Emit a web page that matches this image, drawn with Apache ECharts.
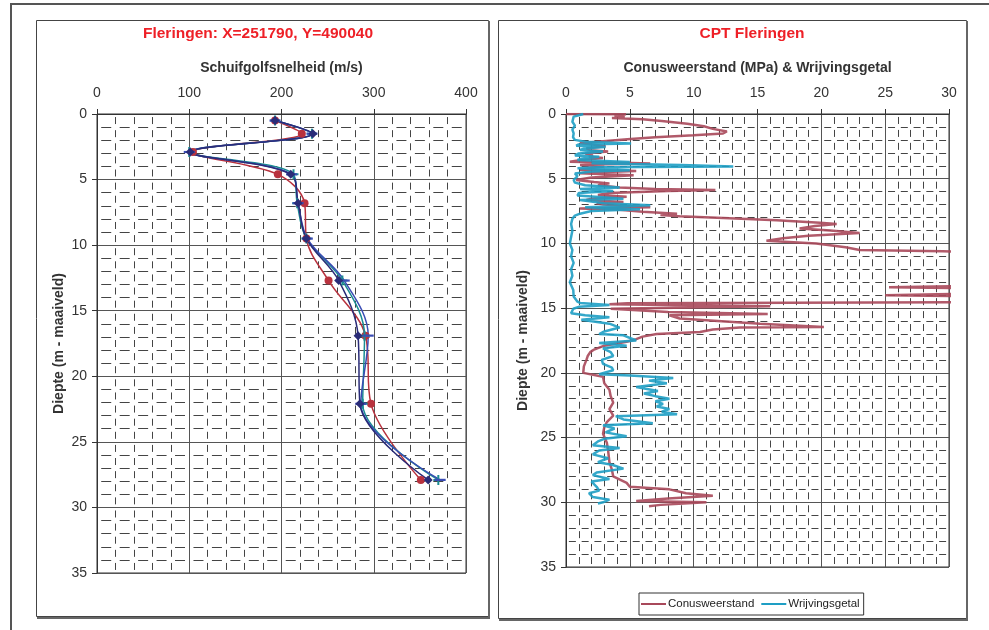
<!DOCTYPE html>
<html><head><meta charset="utf-8">
<script src="https://cdn.jsdelivr.net/npm/echarts@6/dist/echarts.min.js"></script>
<style>html,body{margin:0;padding:0;background:#fff}#c{width:989px;height:630px}</style>
</head><body><div id="c"></div>
<script>
// ---- Left chart: shear wave velocity profiles ----
const vsDepth = [0.5, 1.5, 2.9, 4.6, 6.8, 9.5, 12.7, 16.9, 22.1, 27.9];
const vsRed   = [193, 222, 104, 196, 225, 227, 251, 291, 297, 351];
const vsTeal  = [193, 233, 100, 213, 217, 227, 266, 290, 288, 370];
const vsBlue  = [193, 233, 100, 211, 218, 228, 268, 294, 286, 372];
const vsNavy  = [193, 234, 101, 210, 218, 227, 262, 283, 285, 359];

// ---- Right chart: CPT ----
const qcDepth = [0.00,0.02,0.08,0.13,0.21,0.30,0.40,0.55,0.75,0.95,1.15,1.35,1.50,1.65,1.80,1.95,2.10,2.25,2.40,2.50,2.65,2.80,2.90,3.05,3.15,3.30,3.40,3.55,3.68,3.75,3.82,3.90,3.94,4.05,4.15,4.30,4.40,4.50,4.58,4.74,4.90,5.10,5.25,5.36,5.50,5.67,5.80,5.88,5.95,6.10,6.25,6.40,6.55,6.65,6.80,6.90,7.00,7.20,7.30,7.40,7.55,7.70,7.80,7.90,8.05,8.20,8.40,8.50,8.65,8.84,9.00,9.20,9.40,9.60,9.80,10.00,10.30,10.50,10.60,10.70,11.50,12.50,13.30,13.38,13.46,13.90,14.00,14.08,14.55,14.62,14.70,14.85,15.05,15.30,15.45,15.55,15.80,16.20,16.45,16.50,16.65,16.85,17.00,17.20,17.40,17.60,17.90,18.20,18.40,18.70,19.00,19.50,20.00,20.30,20.80,21.30,21.80,22.30,22.80,23.30,23.80,24.20,24.70,25.40,26.00,26.90,27.50,28.00,28.50,28.80,29.00,29.30,29.50,29.70,29.90,30.00,30.20,30.30];
const qcValue = [0.0,4.7,4.0,3.8,4.6,3.6,6.0,7.5,9.5,10.8,11.5,12.6,12.3,10.0,7.0,4.8,2.9,1.1,2.4,3.1,1.6,1.9,3.3,1.5,2.1,1.8,2.9,1.2,0.3,3.5,6.6,2.0,1.1,3.0,2.2,1.1,5.5,2.5,1.1,5.3,2.0,0.8,2.2,3.4,2.5,4.2,7.0,11.7,8.0,3.4,2.5,4.75,2.0,1.6,4.5,2.4,2.9,6.6,1.1,4.2,6.0,8.7,7.4,8.9,12.8,16.5,19.9,21.2,19.5,18.3,20.7,23.0,19.0,17.0,15.7,19.6,21.9,23.0,29.5,31.5,33.0,32.0,31.0,25.3,31.0,31.0,25.0,31.0,31.0,4.8,3.4,16.0,3.5,8.0,15.8,8.1,8.9,15.2,20.2,13.6,11.5,10.5,7.1,6.0,5.5,4.75,3.0,2.2,1.9,1.7,1.6,1.4,1.35,2.9,3.0,3.4,3.5,3.7,3.4,3.7,3.2,3.0,2.9,3.2,3.3,3.4,3.6,3.7,4.75,5.0,8.1,9.4,11.5,8.0,5.5,11.0,7.4,6.5];
const rfDepth = [0.0,0.1,0.2,0.34,0.6,0.9,1.2,1.5,1.8,2.0,2.15,2.27,2.35,2.45,2.55,2.65,2.78,2.9,3.05,3.2,3.3,3.45,3.55,3.7,3.8,3.95,4.05,4.12,4.2,4.35,4.45,4.6,4.8,5.1,5.3,5.5,5.67,5.8,5.95,6.1,6.3,6.55,6.65,6.9,7.05,7.2,7.35,7.5,7.7,7.85,8.1,8.5,9.0,9.5,10.0,10.5,11.0,11.5,12.0,12.5,13.0,13.6,14.1,14.5,14.6,14.75,14.9,15.05,15.4,15.55,15.7,15.9,16.2,16.5,16.8,17.0,17.1,17.5,17.7,17.9,18.1,18.4,18.7,19.0,19.3,19.6,19.8,20.1,20.2,20.4,20.6,20.8,21.1,21.4,21.6,21.8,22.0,22.2,22.4,22.6,22.8,23.0,23.2,23.35,23.6,23.9,24.05,24.3,24.6,24.9,25.1,25.3,25.6,25.8,26.0,26.3,26.6,26.9,27.1,27.4,27.7,27.9,28.2,28.4,28.5,28.8,29.1,29.3,29.6,29.8,30.0,30.1];
const rfValue = [1.35,1.0,0.6,0.57,0.5,0.7,0.5,0.6,0.55,0.7,1.5,5.1,1.0,0.8,3.1,1.5,1.1,2.9,1.0,0.7,2.6,1.2,0.9,5.0,2.0,9.0,13.1,2.5,0.9,5.0,2.0,0.7,0.9,0.6,0.7,1.5,4.2,1.1,3.7,1.0,0.9,4.5,1.1,3.0,6.6,1.5,5.8,2.0,1.1,0.7,0.5,0.4,0.5,0.4,0.3,0.5,0.4,0.6,0.4,0.5,0.3,0.57,0.6,0.9,1.1,3.4,1.0,0.57,0.4,1.5,3.4,1.2,3.4,4.2,3.0,2.6,4.5,5.5,2.6,4.75,2.9,3.5,3.7,2.8,2.9,3.6,3.7,2.6,5.0,8.4,6.5,7.9,5.5,7.2,6.1,7.0,8.1,7.0,7.6,7.1,8.1,7.5,8.7,3.9,4.5,6.8,2.9,3.8,3.1,4.75,3.0,2.5,2.1,4.2,2.6,2.1,3.3,2.5,3.6,4.5,2.4,2.1,3.4,2.0,1.9,2.4,2.6,1.8,2.1,3.4,2.9,2.5];

const pairs = (xs, ys) => xs.map((x, i) => [x, ys[i]]);

const FONT = 'Liberation Sans, Arial, sans-serif';
const axisTxt = { color: '#333', fontSize: 14, fontFamily: FONT };
const nameTxt = { color: '#333', fontSize: 14, fontWeight: 'bold', fontFamily: FONT };

function minorLine(period, dash) {
  const gap = period - dash;
  return { show: true, lineStyle: { color: '#444', width: 1, type: [dash, gap], dashOffset: dash + gap / 2 } };
}

const chart = echarts.init(document.getElementById('c'), null, { renderer: 'canvas' });

const plus = 'path://M4,0L6,0L6,4L10,4L10,6L6,6L6,10L4,10L4,6L0,6L0,4L4,4Z';
const dash = 'path://M0,4L10,4L10,6L0,6Z';

function vsSeries(name, vals, color, symbol, size) {
  return {
    name, type: 'line', xAxisIndex: 0, yAxisIndex: 0,
    data: pairs(vals, vsDepth), smooth: 0.35,
    symbol, symbolSize: size, symbolKeepAspect: true, showSymbol: true,
    itemStyle: { color }, lineStyle: { color, width: 1.5 }, z: 3
  };
}

chart.setOption({
  animation: false,
  backgroundColor: '#fff',
  grid: [
    { left: 97, top: 114, width: 369, height: 459, show: true, borderColor: '#333', borderWidth: 1 },
    { left: 566, top: 114, width: 383, height: 453, show: true, borderColor: '#333', borderWidth: 1 }
  ],
  xAxis: [
    { type: 'value', gridIndex: 0, position: 'top', min: 0, max: 400, interval: 100,
      name: 'Schuifgolfsnelheid (m/s)', nameLocation: 'middle', nameGap: 39, nameTextStyle: nameTxt,
      axisLine: { show: true, lineStyle: { color: '#333' } },
      axisTick: { show: true, length: 5, lineStyle: { color: '#333' } },
      axisLabel: Object.assign({ margin: 14 }, axisTxt),
      splitLine: { show: true, lineStyle: { color: '#555', width: 1 } },
      minorTick: { show: false, splitNumber: 5 },
      minorSplitLine: minorLine(459 / 35, 7) },
    { type: 'value', gridIndex: 1, position: 'top', min: 0, max: 30, interval: 5,
      name: 'Conusweerstand (MPa) & Wrijvingsgetal', nameLocation: 'middle', nameGap: 39, nameTextStyle: nameTxt,
      axisLine: { show: true, lineStyle: { color: '#333' } },
      axisTick: { show: true, length: 5, lineStyle: { color: '#333' } },
      axisLabel: Object.assign({ margin: 14 }, axisTxt),
      splitLine: { show: true, lineStyle: { color: '#555', width: 1 } },
      minorTick: { show: false, splitNumber: 5 },
      minorSplitLine: minorLine(453 / 35, 7) }
  ],
  yAxis: [
    { type: 'value', gridIndex: 0, inverse: true, min: 0, max: 35, interval: 5,
      name: 'Diepte (m - maaiveld)', nameLocation: 'middle', nameGap: 31, nameRotate: 90, nameTextStyle: nameTxt,
      axisLine: { show: true, lineStyle: { color: '#333' } },
      axisTick: { show: true, length: 5, lineStyle: { color: '#333' } },
      axisLabel: Object.assign({ margin: 10 }, axisTxt),
      splitLine: { show: true, lineStyle: { color: '#555', width: 1 } },
      minorTick: { show: false, splitNumber: 5 },
      minorSplitLine: minorLine(369 / 20, 10) },
    { type: 'value', gridIndex: 1, inverse: true, min: 0, max: 35, interval: 5,
      name: 'Diepte (m - maaiveld)', nameLocation: 'middle', nameGap: 36, nameRotate: 90, nameTextStyle: nameTxt,
      axisLine: { show: true, lineStyle: { color: '#333' } },
      axisTick: { show: true, length: 5, lineStyle: { color: '#333' } },
      axisLabel: Object.assign({ margin: 10 }, axisTxt),
      splitLine: { show: true, lineStyle: { color: '#555', width: 1 } },
      minorTick: { show: false, splitNumber: 5 },
      minorSplitLine: minorLine(383 / 30, 7) }
  ],
  legend: {
    data: [{ name: 'Conusweerstand', icon: 'rect' }, { name: 'Wrijvingsgetal', icon: 'rect' }],
    left: 639, top: 593, orient: 'horizontal',
    itemWidth: 25, itemHeight: 2, itemGap: 7,
    padding: [5, 4, 5, 2],
    borderColor: '#333', borderWidth: 1, borderRadius: 0,
    textStyle: { color: '#222', fontSize: 11.5, fontFamily: FONT, padding: [0, 0, 0, -3] }
  },
  graphic: [
    { type: 'rect', shape: { x: 11, y: 4, width: 1000, height: 700 }, style: { fill: 'none', stroke: '#555', lineWidth: 2 }, z: -10, silent: true },
    { type: 'rect', shape: { x: 36.5, y: 20.5, width: 452, height: 596 }, style: { fill: 'none', stroke: '#444', lineWidth: 1 }, silent: true },
    { type: 'polyline', shape: { points: [[489, 21], [489, 618], [37, 618]] }, style: { stroke: '#666', lineWidth: 2, fill: 'none' }, silent: true },
    { type: 'rect', shape: { x: 498.5, y: 20.5, width: 468, height: 598 }, style: { fill: 'none', stroke: '#444', lineWidth: 1 }, silent: true },
    { type: 'polyline', shape: { points: [[967, 21], [967, 620], [499, 620]] }, style: { stroke: '#666', lineWidth: 2, fill: 'none' }, silent: true },
    { type: 'text', x: 258, y: 34, style: { text: 'Fleringen: X=251790, Y=490040', textAlign: 'center', textVerticalAlign: 'middle', font: 'bold 15.5px Liberation Sans, Arial, sans-serif', fill: '#EE2027' }, silent: true },
    { type: 'text', x: 752, y: 34, style: { text: 'CPT Fleringen', textAlign: 'center', textVerticalAlign: 'middle', font: 'bold 15.5px Liberation Sans, Arial, sans-serif', fill: '#EE2027' }, silent: true }
  ],
  series: [
    vsSeries('Vs 1', vsRed, '#B8323E', 'circle', 8),
    vsSeries('Vs 2', vsTeal, '#1A8C92', plus, 10),
    vsSeries('Vs 3', vsBlue, '#3A4CB4', dash, 11),
    vsSeries('Vs 4', vsNavy, '#2A2C78', 'diamond', 9),
    { name: 'Conusweerstand', type: 'line', xAxisIndex: 1, yAxisIndex: 1,
      data: pairs(qcValue, qcDepth), symbol: 'none', showSymbol: false, clip: true,
      itemStyle: { color: '#A8485A' }, lineStyle: { color: '#A8485A', width: 2.5, opacity: 0.9 }, z: 3 },
    { name: 'Wrijvingsgetal', type: 'line', xAxisIndex: 1, yAxisIndex: 1,
      data: pairs(rfValue, rfDepth), symbol: 'none', showSymbol: false, clip: true,
      itemStyle: { color: '#1E9EC4' }, lineStyle: { color: '#1E9EC4', width: 2.5, opacity: 0.9 }, z: 4 }
  ]
});
</script>
</body></html>
